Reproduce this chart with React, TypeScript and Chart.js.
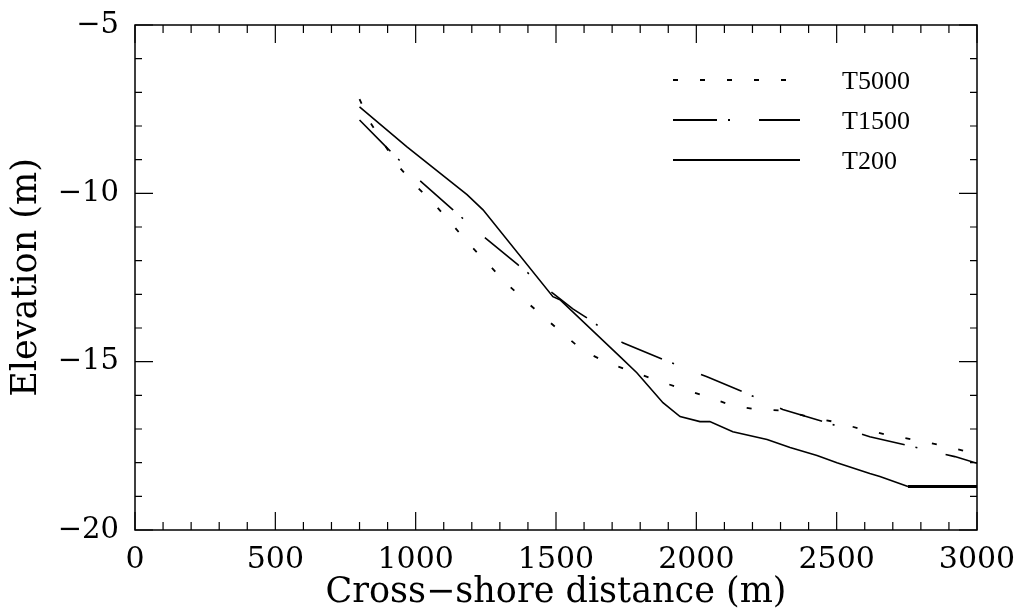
import React, { useEffect, useRef } from "react";
import { Chart, registerables } from "chart.js";

Chart.register(...registerables);

// Series data (cross-shore distance in m, elevation in m)
const t5000X = [800, 837, 937, 1005, 1069, 1129, 1186, 1254, 1318, 1382, 1525, 1596, 1682, 1774, 1860, 1949, 2038, 2130, 2216, 2308, 2398, 2487, 2583, 2679, 2768, 2857, 2950, 3000];
const t5000Y = [-7.2, -7.88, -9.18, -9.81, -10.34, -10.91, -11.47, -12.06, -12.63, -13.13, -14.17, -14.67, -15.03, -15.3, -15.56, -15.8, -16.04, -16.31, -16.42, -16.45, -16.63, -16.78, -16.99, -17.17, -17.31, -17.46, -17.64, -17.76];

const t1500X = [800, 898, 1012, 1133, 1243, 1364, 1486, 1560, 1603, 1738, 1892, 2038, 2173, 2308, 2465, 2618, 2768, 2921, 3000];
const t1500Y = [-7.82, -8.65, -9.6, -10.49, -11.29, -12.12, -12.95, -13.43, -13.66, -14.44, -14.97, -15.45, -15.92, -16.42, -16.81, -17.23, -17.52, -17.82, -18.02];

const t200X = [800, 969, 1183, 1240, 1489, 1514, 1728, 1788, 1881, 1942, 2013, 2048, 2130, 2252, 2334, 2430, 2501, 2618, 2654, 2754, 3000];
const t200Y = [-7.43, -8.62, -10.04, -10.49, -13.07, -13.16, -14.85, -15.33, -16.22, -16.63, -16.78, -16.78, -17.08, -17.31, -17.55, -17.79, -18.0, -18.32, -18.41, -18.71, -18.71];

const seriesNames = ["T5000", "T1500", "T200"];
const xTickStep = 500;
const yTickStep = 5;

const toPoints = (xs: number[], ys: number[]) => xs.map((x, i) => ({ x, y: ys[i] }));

const dashes: number[][] = [[5, 22], [44, 11, 2, 29], []];

const framePlugin = {
  id: "frameTicks",
  afterDraw(chart: any) {
    const { ctx, chartArea: a, scales } = chart;
    const xs = scales.x;
    const ys = scales.y;
    ctx.save();
    ctx.strokeStyle = "#000";
    ctx.lineWidth = 1.5;
    ctx.setLineDash([]);
    ctx.strokeRect(a.left, a.top, a.right - a.left, a.bottom - a.top);
    ctx.lineWidth = 1.2;
    ctx.beginPath();
    for (let v = 0; v <= 3000; v += 100) {
      const p = xs.getPixelForValue(v);
      const len = v % 500 === 0 ? 18 : 8;
      ctx.moveTo(p, a.bottom);
      ctx.lineTo(p, a.bottom - len);
      ctx.moveTo(p, a.top);
      ctx.lineTo(p, a.top + len);
    }
    for (let v = -20; v <= -5; v += 1) {
      const p = ys.getPixelForValue(v);
      const len = v % 5 === 0 ? 18 : 7;
      ctx.moveTo(a.left, p);
      ctx.lineTo(a.left + len, p);
      ctx.moveTo(a.right, p);
      ctx.lineTo(a.right - len, p);
    }
    ctx.stroke();

    // legend
    const rows = [80, 120, 160];
    chart.data.datasets.forEach((ds: any, i: number) => {
      const y = rows[i];
      ctx.beginPath();
      ctx.lineWidth = 1.8;
      ctx.setLineDash(dashes[i]);
      ctx.moveTo(673, y);
      ctx.lineTo(800, y);
      ctx.stroke();
      ctx.setLineDash([]);
      ctx.fillStyle = "#000";
      ctx.font = "26px 'Liberation Serif'";
      ctx.textBaseline = "middle";
      ctx.textAlign = "left";
      ctx.fillText(ds.label, 842, y + 2);
    });
    ctx.restore();
  },
};

export default function App() {
  const ref = useRef<HTMLCanvasElement>(null);
  useEffect(() => {
    if (!ref.current) return;
    const chart = new Chart(ref.current, {
      type: "scatter",
      data: {
        datasets: [
          { label: seriesNames[0], data: toPoints(t5000X, t5000Y), showLine: true, borderColor: "#000", borderWidth: 1.8, borderDash: dashes[0], pointRadius: 0 },
          { label: seriesNames[1], data: toPoints(t1500X, t1500Y), showLine: true, borderColor: "#000", borderWidth: 1.6, borderDash: dashes[1], pointRadius: 0 },
          {
            label: seriesNames[2], data: toPoints(t200X, t200Y), showLine: true, borderColor: "#000", borderWidth: 1.6, pointRadius: 0,
            segment: { borderWidth: (c: any) => (c.p0.parsed.x >= 2750 ? 3 : 1.6) },
          } as any,
        ],
      },
      options: {
        animation: false,
        responsive: true,
        maintainAspectRatio: false,
        layout: { padding: { left: 0, top: 25, right: 41, bottom: 0 } },
        plugins: { legend: { display: false }, tooltip: { enabled: false } },
        scales: {
          x: {
            type: "linear",
            min: 0,
            max: 3000,
            grid: { display: false, drawTicks: false },
            border: { display: false },
            ticks: {
              stepSize: xTickStep, color: "#000", font: { family: "'DejaVu Serif'", size: 30 }, padding: 12, maxRotation: 0,
              callback: (v: any) => String(v),
            },
            title: { display: true, text: "Cross\u2212shore distance (m)", color: "#000", font: { family: "'DejaVu Serif'", size: 35 }, padding: { top: -6, bottom: 0 } },
            afterFit: (s: any) => { s.height = 84; s.paddingLeft = 0; s.paddingRight = 0; },
          },
          y: {
            type: "linear",
            min: -20,
            max: -5,
            grid: { display: false, drawTicks: false },
            border: { display: false },
            ticks: {
              stepSize: yTickStep,
              color: "#000",
              font: { family: "'DejaVu Serif'", size: 29 },
              padding: 16,
              callback: (v: any) => String(v).replace("-", "\u2212"),
            },
            title: { display: true, text: "Elevation (m)", color: "#000", font: { family: "'DejaVu Serif'", size: 35 }, padding: { top: 6, bottom: 0 } },
            afterFit: (s: any) => { s.width = 135; s.paddingTop = 0; s.paddingBottom = 0; },
          },
        },
      },
      plugins: [framePlugin],
    });
    return () => chart.destroy();
  }, []);
  return (
    <div style={{ position: "fixed", left: 0, top: 0, width: 1018, height: 614, background: "#fff" }}>
      <canvas ref={ref} />
    </div>
  );
}
